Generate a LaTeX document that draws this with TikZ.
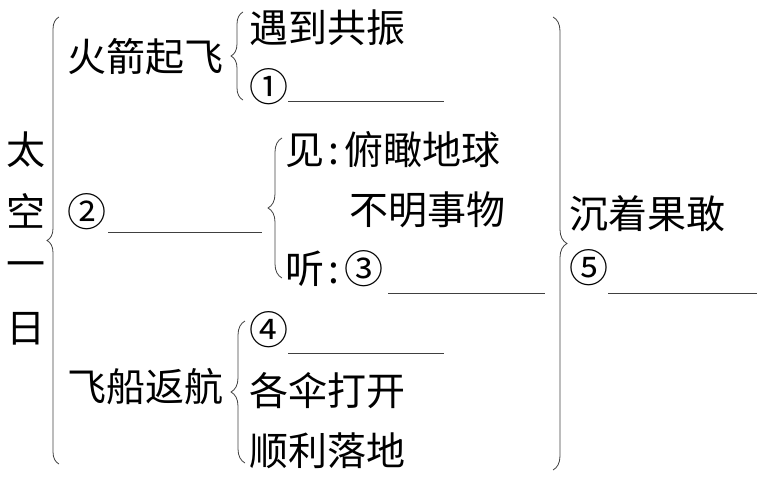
\documentclass[tikz,border=0pt]{standalone}
\usepackage{fontspec}
\setmainfont{Noto Sans CJK SC}
\usetikzlibrary{positioning}
\usetikzlibrary{decorations.pathreplacing}

\begin{document}
\begin{tikzpicture}
	[x=1pt, y=-1pt,
	 word/.style={anchor=west, inner sep=0pt, font=\fontsize{39}{39}\selectfont},
	 brace/.style={draw=black!75, line width=0.8pt, decorate, decoration={brace, amplitude=#1}},
	 brace/.default=12pt,
	 blank/.style={draw=black!75, line width=0.9pt}]
	\useasboundingbox (0,0) rectangle (761,477);

	% title, written top to bottom
	\node[word, anchor=center] (t1) at (26,150) {太};
	\node[word, anchor=center] (t2) at (26,211) {空};
	\node[word, anchor=center] (t3) at (26,270) {一};
	\node[word, anchor=center] (t4) at (26,329) {日};
	\draw[brace] (59,464) -- (59,17);

	% first part
	\node[word] (a) at (67,57) {火箭起飞};
	\draw[brace] (243,100) -- (243,12);
	\node[word] (a1) at (249,28) {遇到共振};
	\node[word] (a2) at (249,87) {①};
	\draw[blank] (288,101) -- (444,101);

	% second part
	\node[word] (b) at (67,212) {②};
	\draw[blank] (108,232) -- (262,232);
	\draw[brace=14pt] (282,278) -- (282,138);
	\node[word] (b1) at (285,150) {见\kern4pt:\kern5pt 俯瞰地球};
	\node[word] (b2) at (349,210) {不明事物};
	\node[word] (b3) at (285,269) {听\kern4pt:\kern5pt ③};
	\draw[blank] (388,293) -- (545,293);

	% third part
	\node[word] (c) at (67,387) {飞船返航};
	\draw[brace=14pt] (245,463) -- (245,321);
	\node[word] (c1) at (249,330) {④};
	\draw[blank] (288,353) -- (444,353);
	\node[word] (c2) at (249,391) {各伞打开};
	\node[word] (c3) at (249,451) {顺利落地};

	% right side
	\draw[brace=14pt] (553,17) -- (553,470);
	\node[word] (r1) at (569,214) {沉着果敢};
	\node[word] (r2) at (569,268) {⑤};
	\draw[blank] (608,293) -- (757,293);
\end{tikzpicture}
\end{document}
